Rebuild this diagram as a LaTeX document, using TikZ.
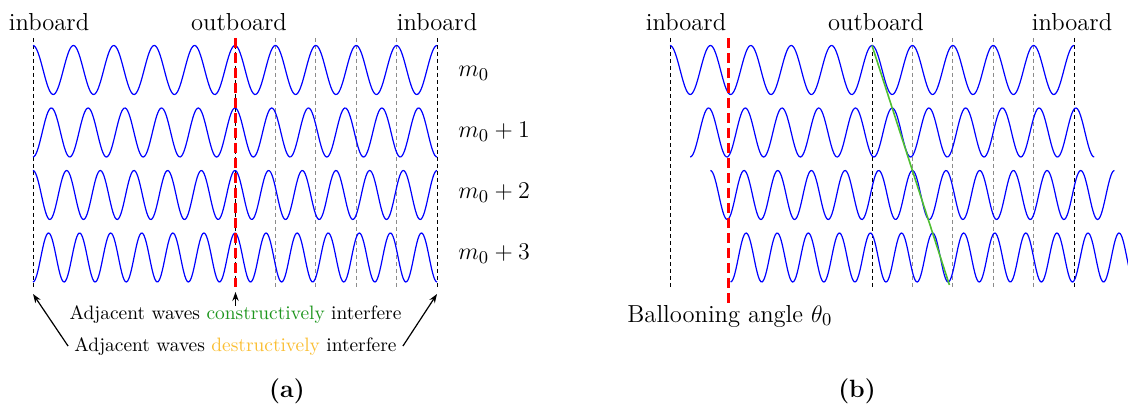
\documentclass[tikz,border=0pt]{standalone}
\usetikzlibrary{arrows.meta}
\definecolor{cgreen}{RGB}{30,150,30}
\definecolor{dyellow}{RGB}{250,190,50}
\definecolor{glinecol}{RGB}{80,190,50}
\begin{document}
\begin{tikzpicture}[x=0.5pt,y=-0.5pt,
  wave/.style={blue, line width=0.6pt},
  guide/.style={draw=black, line width=0.45pt, dash pattern=on 2pt off 1.5pt},
  guidegray/.style={guide, draw=black!45},
  redline/.style={draw=red, line width=1.5pt, dash pattern=on 5pt off 2.5pt},
  lbl/.style={font=\fontsize{12.3}{14}\selectfont, inner sep=0pt, anchor=base},
  sent/.style={font=\fontsize{9.7}{12}\selectfont, inner xsep=3pt, inner ysep=0pt, anchor=base},
  captext/.style={font=\fontsize{12.5}{15}\selectfont\bfseries, inner sep=0pt, anchor=base},
  arr/.style={-{Stealth[length=4.5pt,width=3.2pt]}, line width=0.6pt},
  ballline/.style={draw=glinecol, line width=0.8pt}
  ]
\useasboundingbox (0,0) rectangle (1128,405);
\clip (0,0) rectangle (1128,405);

% ---------- panel (a) guide lines ----------
\foreach \xx in {33,235,437}
  \draw[guide] (\xx,38) -- (\xx,290);
\foreach \xx in {275.4,315.8,356.2,396.6}
  \draw[guidegray] (\xx,38) -- (\xx,290);
% ---------- panel (b) guide lines ----------
\foreach \xx in {670,872,1074}
  \draw[guide] (\xx,38) -- (\xx,290);
\foreach \xx in {912.4,952.8,993.2,1033.6}
  \draw[guidegray] (\xx,38) -- (\xx,290);

% ---------- waves ----------
\foreach \k/\c in {0/70,1/132.5,2/195,3/257.5} {
  \draw[wave] plot[domain=33:437, samples=360]
     (\x, {\c - 24.5*cos(360*(10+\k)*((\x-33)/404) + 180*\k)});
  \pgfmathsetmacro\xa{670+20.2*\k}
  \pgfmathsetmacro\xb{1074+20.2*\k}
  \draw[wave] plot[domain=\xa:\xb, samples=360]
     (\x, {\c - 24.5*cos(360*(10+\k)*((\x-\xa)/404) + 180*\k)});
}

% ---------- coordinates ----------
\coordinate (aRedTop) at (235,38);
\coordinate (aRedBot) at (235,287);
\coordinate (aOutTip) at (235.5,292);
\coordinate (aLTip) at (33,294);
\coordinate (aRTip) at (437,294);
\coordinate (bRedTop) at (728,38);
\coordinate (bRedBot) at (728,303);
\coordinate (gStart) at (872,45.5);
\coordinate (gEnd) at (949.4,285);

% ---------- red and green lines ----------
\draw[redline] (aRedTop) -- (aRedBot);
\draw[redline] (bRedTop) -- (bRedBot);
\draw[ballline] (gStart) -- (gEnd);

% ---------- labels (a) ----------
\node[lbl] (ain1) at (49,30.5) {inboard};
\node[lbl] (aout) at (239,30.5) {outboard};
\node[lbl] (ain2) at (437,30.5) {inboard};
\node[lbl, anchor=base west] (m0) at (458,77) {$m_0$};
\node[lbl, anchor=base west] (m1) at (458,138) {$m_0+1$};
\node[lbl, anchor=base west] (m2) at (458,199) {$m_0+2$};
\node[lbl, anchor=base west] (m3) at (458,260) {$m_0+3$};

\node[sent] (constr) at (235.5,320) {Adjacent waves \textcolor{cgreen}{constructively} interfere};
\node[sent] (destr) at (235.5,351) {Adjacent waves \textcolor{dyellow}{destructively} interfere};
\draw[arr] (constr.north) -- (aOutTip);
\draw[arr] (destr.west) -- (aLTip);
\draw[arr] (destr.east) -- (aRTip);

\node[captext] (capa) at (287,397) {(a)};

% ---------- labels (b) ----------
\node[lbl] (bin1) at (686,30.5) {inboard};
\node[lbl] (bout) at (876,30.5) {outboard};
\node[lbl] (bin2) at (1072,30.5) {inboard};
\node[lbl, anchor=base west] (ball) at (627,322) {Ballooning angle $\theta_0$};

\node[captext] (capb) at (857,397) {(b)};
\end{tikzpicture}
\end{document}
